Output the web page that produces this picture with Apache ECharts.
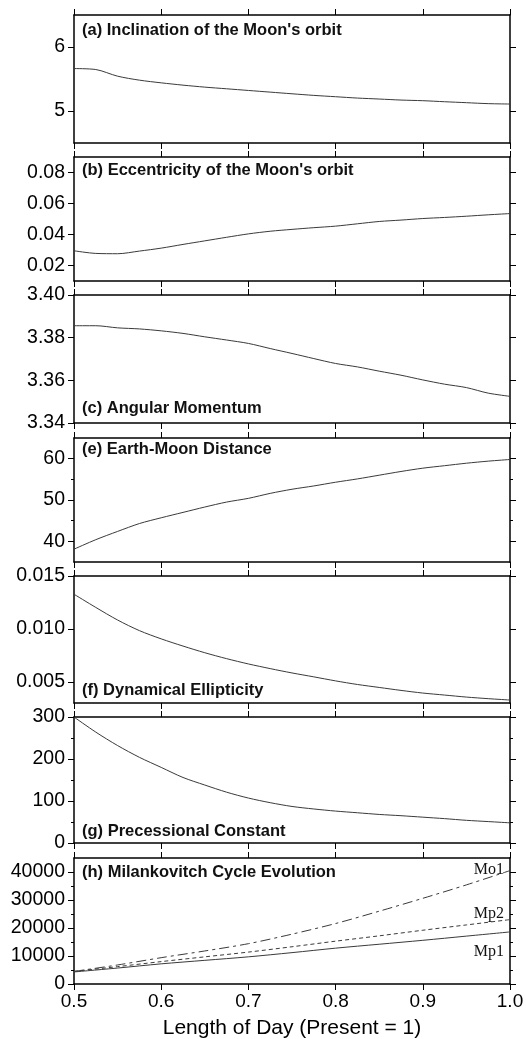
<!DOCTYPE html>
<html>
<head>
<meta charset="utf-8">
<title>Earth-Moon system vs length of day</title>
<script src="https://cdn.jsdelivr.net/npm/echarts@6/dist/echarts.min.js"></script>
<style>
  html, body { margin: 0; padding: 0; background: #fff; }
  #chart { width: 526px; height: 1039px; }
</style>
</head>
<body>
<div id="chart"></div>
<script>
// length of day (present = 1), read every 0.025 for panels a-g, every 0.05 for h
const lod = [0.5, 0.525, 0.55, 0.575, 0.6, 0.625, 0.65, 0.675, 0.7, 0.725, 0.75,
             0.775, 0.8, 0.825, 0.85, 0.875, 0.9, 0.925, 0.95, 0.975, 1.0];
const lodH = [0.5, 0.55, 0.6, 0.65, 0.7, 0.75, 0.8, 0.85, 0.9, 0.95, 1.0];

const inclination = [5.663, 5.648, 5.544, 5.482, 5.44, 5.404, 5.373, 5.347, 5.321, 5.295, 5.269,
                     5.244, 5.223, 5.202, 5.187, 5.171, 5.161, 5.145, 5.13, 5.115, 5.109];
const eccentricity = [0.0295, 0.0278, 0.0276, 0.0293, 0.0312, 0.0336, 0.0359, 0.0382, 0.0404, 0.0421, 0.0433,
                      0.0444, 0.0454, 0.0469, 0.0484, 0.0493, 0.0503, 0.0510, 0.0518, 0.0527, 0.0535];
const angularMomentum = [3.3856, 3.3856, 3.3846, 3.3841, 3.3832, 3.3820, 3.3804, 3.3789, 3.3773, 3.3749, 3.3726,
                         3.3702, 3.3679, 3.3663, 3.3643, 3.3624, 3.3602, 3.3582, 3.3566, 3.3540, 3.3525];
const distance = [38.1, 40.4, 42.4, 44.3, 45.7, 47.0, 48.3, 49.5, 50.4, 51.6, 52.6,
                  53.4, 54.3, 55.1, 56.0, 56.9, 57.7, 58.3, 58.9, 59.4, 59.8];
const ellipticity = [0.01328, 0.01203, 0.01084, 0.00984, 0.00906, 0.00838, 0.00775, 0.00719, 0.00669, 0.00625, 0.00584,
                     0.00547, 0.00509, 0.00475, 0.00447, 0.00419, 0.00394, 0.00375, 0.00356, 0.00341, 0.00328];
const precession = [300, 264, 232, 204, 180, 156, 138, 121, 107, 96, 87,
                    81, 76, 72, 68, 65, 61.5, 58, 54, 51, 48];
const mp1 = [4300, 5700, 7200, 8450, 9700, 11200, 12800, 14200, 15600, 17100, 18600];
const mp2 = [4500, 6200, 8000, 9700, 11400, 13300, 15300, 17200, 19200, 21100, 23000];
const mo1 = [4500, 6800, 9400, 11800, 14400, 17800, 21600, 26000, 30600, 35400, 40500];

// tick values
const ticksA = [5, 6];
const ticksB = [0.02, 0.04, 0.06, 0.08];
const ticksC = [3.34, 3.36, 3.38, 3.40];
const ticksE = [40, 50, 60];
const minorE = [45, 55];
const ticksF = [0.005, 0.010, 0.015];
const ticksG = [0, 100, 200, 300];
const minorG = [50, 150, 250];
const ticksH = [0, 10000, 20000, 30000, 40000];
const minorH = [5000, 15000, 25000, 35000];

const panels = [
  { title: "(a) Inclination of the Moon's orbit", ty: 30, top: 15, h: 128, min: 4.5, max: 6.5, ticks: ticksA, minor: [], dec: 0 },
  { title: "(b) Eccentricity of the Moon's orbit", ty: 170, top: 157, h: 124, min: 0.01, max: 0.09, ticks: ticksB, minor: [], dec: 2 },
  { title: "(c) Angular Momentum", ty: 408, top: 295, h: 128, min: 3.34, max: 3.40, ticks: ticksC, minor: [], dec: 2 },
  { title: "(e) Earth-Moon Distance", ty: 449, top: 438, h: 124, min: 35, max: 65, ticks: ticksE, minor: minorE, dec: 0 },
  { title: "(f) Dynamical Ellipticity", ty: 690, top: 576, h: 127, min: 0.003, max: 0.015, ticks: ticksF, minor: [], dec: 3 },
  { title: "(g) Precessional Constant", ty: 831, top: 717, h: 126, min: 0, max: 300, ticks: ticksG, minor: minorG, dec: 0 },
  { title: "(h) Milankovitch Cycle Evolution", ty: 872, top: 858, h: 126, min: 0, max: 45000, ticks: ticksH, minor: minorH, dec: 0 }
];

const FONT = "Liberation Sans";
const LEFT = 74, WIDTH = 436;

const grids = [], xAxes = [], yAxes = [], series = [], titles = [];

function pairs(xs, vals) {
  return xs.map((x, k) => [x, vals[k]]);
}

panels.forEach((p, i) => {
  const last = i === panels.length - 1;
  grids.push({ left: LEFT, top: p.top, width: WIDTH, height: p.h, outerBoundsMode: "none", containLabel: false });

  ["bottom", "top"].forEach(pos => {
    const showLab = last && pos === "bottom";
    xAxes.push({
      type: "value", gridIndex: i, position: pos,
      min: 0.5, max: 1.0, interval: 0.1,
      axisLine: { show: true, onZero: false, lineStyle: { color: "#000", width: 1.5 } },
      axisTick: { show: true, inside: false, length: 6, lineStyle: { color: "#000", width: 1 } },
      axisLabel: { show: showLab, margin: 8, fontSize: 19, color: "#000", fontFamily: FONT,
        formatter: v => v.toFixed(1) },
      splitLine: { show: false },
      name: showLab ? "Length of Day (Present = 1)" : "",
      nameLocation: "middle", nameGap: 34,
      nameTextStyle: { fontSize: 21, color: "#000", fontFamily: FONT }
    });
  });

  const mainY = yAxes.length;
  ["left", "right"].forEach(pos => {
    yAxes.push({
      type: "value", gridIndex: i, position: pos, min: p.min, max: p.max,
      axisLine: { show: true, onZero: false, lineStyle: { color: "#000", width: 1.5 } },
      axisTick: { show: true, inside: false, length: 6, customValues: p.ticks, lineStyle: { color: "#000", width: 1 } },
      axisLabel: { show: pos === "left", customValues: p.ticks, margin: 9, fontSize: 19.5, color: "#000", fontFamily: FONT,
        formatter: v => v.toFixed(p.dec) },
      splitLine: { show: false }
    });
    if (p.minor.length) {
      yAxes.push({
        type: "value", gridIndex: i, position: pos, min: p.min, max: p.max,
        axisLine: { show: false },
        axisTick: { show: true, inside: false, length: 3, customValues: p.minor, lineStyle: { color: "#000", width: 1 } },
        axisLabel: { show: false },
        splitLine: { show: false }
      });
    }
  });

  titles.push({
    text: p.title, left: 82, top: p.ty - 10, padding: 0,
    textStyle: { fontSize: 16.5, fontWeight: "bold", color: "#111", fontFamily: FONT, lineHeight: 20 }
  });

  p.xIndex = i * 2;
  p.yIndex = mainY;
});

const lineBase = { type: "line", showSymbol: false, smooth: 0.3, animation: false };
const grey = "#3a3a3a";

const curves = [inclination, eccentricity, angularMomentum, distance, ellipticity, precession];
curves.forEach((vals, i) => {
  series.push(Object.assign({}, lineBase, {
    xAxisIndex: panels[i].xIndex, yAxisIndex: panels[i].yIndex,
    data: pairs(lod, vals), lineStyle: { color: grey, width: 1 }
  }));
});

const hp = panels[6];
[[mp1, "solid"], [mp2, [4, 3]], [mo1, [10, 4, 3, 4]]].forEach(([vals, dash], k) => {
  series.push(Object.assign({}, lineBase, {
    name: ["Mp1", "Mp2", "Mo1"][k],
    xAxisIndex: hp.xIndex, yAxisIndex: hp.yIndex,
    data: pairs(lodH, vals), lineStyle: { color: grey, width: 1, type: dash }
  }));
});

// curve names in panel (h)
[["Mo1", 870], ["Mp2", 914], ["Mp1", 952]].forEach(([t, y]) => {
  titles.push({
    text: t, right: 22, top: y - 9, padding: 0,
    textStyle: { fontSize: 16, fontWeight: "normal", color: "#111", fontFamily: "Liberation Serif", lineHeight: 18 }
  });
});

const chart = echarts.init(document.getElementById("chart"));
chart.setOption({
  backgroundColor: "#fff",
  animation: false,
  title: titles,
  grid: grids,
  xAxis: xAxes,
  yAxis: yAxes,
  series: series
});
</script>
</body>
</html>
